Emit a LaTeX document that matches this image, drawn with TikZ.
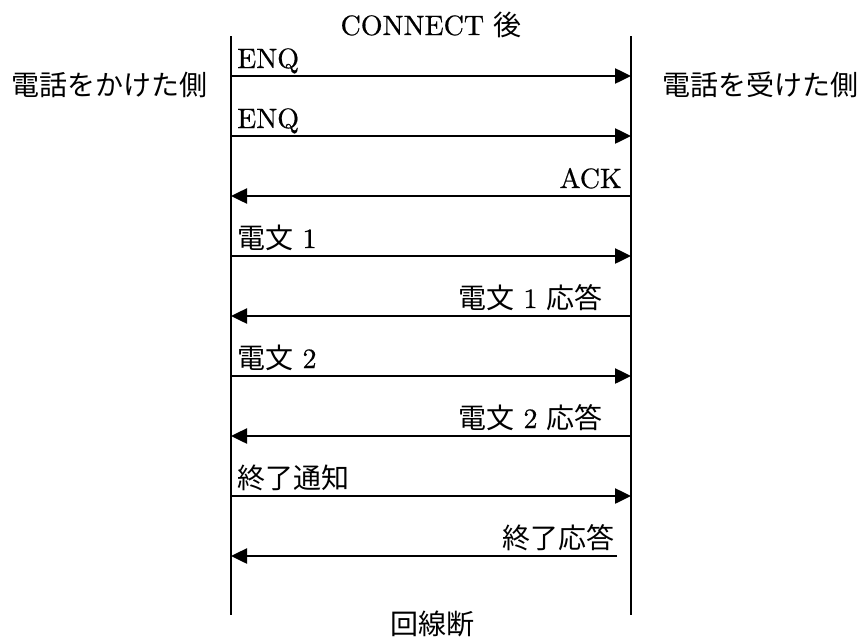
\documentclass[tikz,border=0pt]{standalone}
\usepackage{fontspec}
\setmainfont{lmroman10-regular.otf}[FakeBold=0.6]
\newfontfamily\jp{Noto Sans CJK JP}
\usetikzlibrary{arrows.meta}
\begin{document}
\begin{tikzpicture}[x=1pt,y=-1pt,
  every node/.style={inner sep=0pt, font=\fontsize{28}{33}\selectfont},
  life/.style={line width=2pt},
  msg/.style={line width=2.5pt, -{Triangle[length=16pt,width=15pt]}},
  llbl/.style={anchor=base west},
  rlbl/.style={anchor=base east}]
\useasboundingbox (0,0) rectangle (861,637);
% lifelines
\coordinate (LT) at (231,36); \coordinate (LB) at (231,615);
\coordinate (RT) at (631,36); \coordinate (RB) at (631,615);
\draw[life] (LT) -- (LB);
\draw[life] (RT) -- (RB);
% headings
\node[anchor=base] (title) at (431,35) {CONNECT {\jp 後}};
\node[anchor=base west] (caller) at (11,95) {\jp 電話をかけた側};
\node[anchor=base west] (callee) at (662,95) {\jp 電話を受けた側};
\node[anchor=base] (cut) at (432,634) {\jp 回線断};
% message end points
\foreach \i/\y in {1/76,2/136,3/196,4/256,5/316,6/376,7/436,8/496,9/556}{
  \coordinate (L\i) at (231,\y);
  \coordinate (R\i) at (631,\y);
}
\coordinate (R9s) at (617,556);
% messages
\draw[msg] (L1) -- (R1);
\draw[msg] (L2) -- (R2);
\draw[msg] (R3) -- (L3);
\draw[msg] (L4) -- (R4);
\draw[msg] (R5) -- (L5);
\draw[msg] (L6) -- (R6);
\draw[msg] (R7) -- (L7);
\draw[msg] (L8) -- (R8);
\draw[msg] (R9s) -- (L9);
% labels
\node[llbl] (m1) at (237,68) {ENQ};
\node[llbl] (m2) at (237,128) {ENQ};
\node[rlbl] (m3) at (622,188) {ACK};
\node[llbl] (m4) at (237,248) {{\jp 電文} 1};
\node[rlbl] (m5) at (603,308) {{\jp 電文} 1 {\jp 応答}};
\node[llbl] (m6) at (237,368) {{\jp 電文} 2};
\node[rlbl] (m7) at (603,428) {{\jp 電文} 2 {\jp 応答}};
\node[llbl] (m8) at (237,488) {\jp 終了通知};
\node[rlbl] (m9) at (615,548) {\jp 終了応答};
\end{tikzpicture}
\end{document}
